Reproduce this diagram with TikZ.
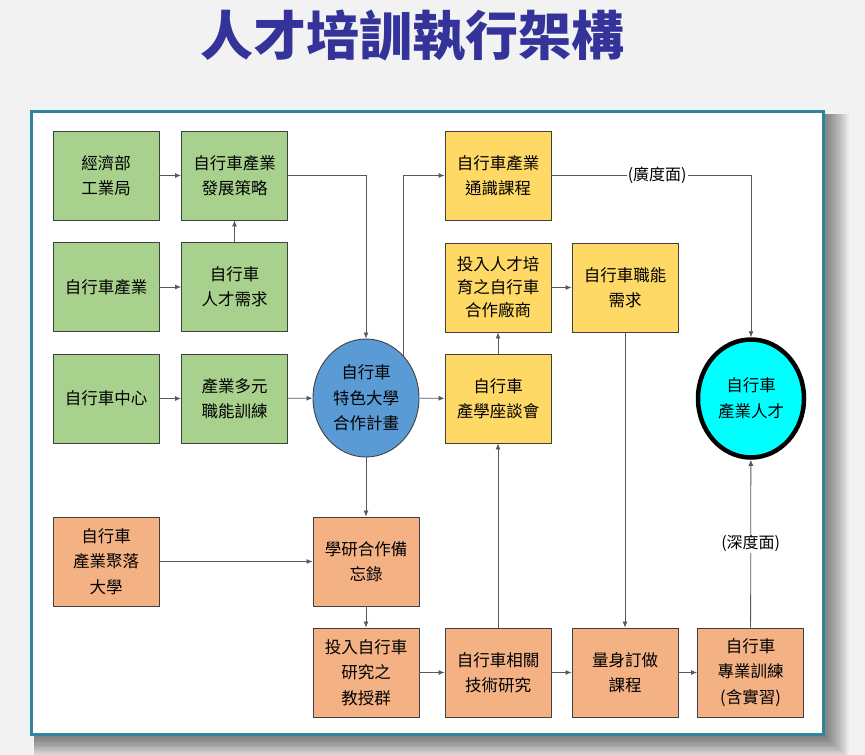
\documentclass[tikz,border=0pt]{standalone}
\usepackage{fontspec}
\newfontfamily\cjk{Noto Sans CJK TC}
\usetikzlibrary{arrows.meta,shapes.geometric}
\definecolor{bgray}{HTML}{F2F2F2}
\definecolor{teal1}{HTML}{31849B}
\definecolor{greenf}{HTML}{A9D18E}
\definecolor{yellowf}{HTML}{FFD966}
\definecolor{orangef}{HTML}{F4B183}
\definecolor{bluef}{HTML}{5B9BD5}
\definecolor{cyanf}{HTML}{00FFFF}
\definecolor{titleblue}{HTML}{333399}
\definecolor{edgec}{HTML}{404040}
\definecolor{linec}{HTML}{595959}
\tikzset{
  boxbase/.style={rectangle, draw=edgec, line width=0.9pt, minimum width=106pt, minimum height=89pt, align=center, inner sep=2pt, font=\cjk\fontsize{16.5}{25}\selectfont},
  gbox/.style={boxbase, fill=greenf},
  ybox/.style={boxbase, fill=yellowf},
  obox/.style={boxbase, fill=orangef},
  conn/.style={draw=linec, line width=0.8pt, -{Latex[length=6pt,width=5pt]}},
  lbl/.style={fill=white, inner sep=1pt, font=\cjk\fontsize{16}{20}\selectfont},
  titlefont/.style={font=\cjk\bfseries\fontsize{53}{60}\selectfont}
}
\begin{document}
\begin{tikzpicture}[x=1pt,y=-1pt]
\useasboundingbox (0,0) rectangle (865,755);
\fill[bgray] (0,0) rectangle (865,755);
% frame shadow
\foreach \k in {1,...,16}{
  \fill[black, opacity=0.035] ({34},{114}) rectangle ({826+1.5*(16-\k)},{738+1.3*(16-\k)});
}
% frame
\draw[teal1, line width=3pt, fill=white] (31.5,111.5) rectangle (823.5,734.5);
% title
\node[text=titleblue, titlefont] (title) at (412,36) {人才培訓執行架構};
% green boxes
\node[gbox] (jjb) at (106,175.5) {經濟部\\工業局};
\node[gbox] (fz) at (234.5,175.5) {自行車產業\\發展策略};
\node[gbox] (cy) at (106,287) {自行車產業};
\node[gbox] (rc) at (234.5,287) {自行車\\人才需求};
\node[gbox] (zx) at (106,398.5) {自行車中心};
\node[gbox] (dy) at (234.5,398.5) {產業多元\\職能訓練};
% blue ellipse
\node[ellipse, draw=edgec, line width=0.9pt, fill=bluef, minimum width=106pt, minimum height=118pt, inner sep=0pt, align=center, font=\cjk\fontsize{16.5}{25.5}\selectfont] (dx) at (366,398) {自行車\\特色大學\\合作計畫};
% yellow boxes
\node[ybox] (ts) at (498,175.5) {自行車產業\\通識課程};
\node[ybox, font=\cjk\fontsize{16.5}{23}\selectfont] (tr) at (498,287.5) {投入人才培\\育之自行車\\合作廠商};
\node[ybox] (zn) at (625,287.5) {自行車職能\\需求};
\node[ybox] (zt) at (498,398.5) {自行車\\產學座談會};
% cyan ellipse
\node[ellipse, draw=black, line width=4.5pt, fill=cyanf, minimum width=106pt, minimum height=118pt, inner sep=0pt, align=center, font=\cjk\fontsize{16.5}{25.5}\selectfont] (rt) at (751,398.5) {自行車\\產業人才};
% orange boxes
\node[obox, font=\cjk\fontsize{16.5}{25.5}\selectfont] (jl) at (106,561.5) {自行車\\產業聚落\\大學};
\node[obox] (xy) at (366,561.5) {學研合作備\\忘錄};
\node[obox, font=\cjk\fontsize{16.5}{25.5}\selectfont] (js) at (366,672.5) {投入自行車\\研究之\\教授群};
\node[obox] (jy) at (498,672.5) {自行車相關\\技術研究};
\node[obox] (ls) at (625,672.5) {量身訂做\\課程};
\node[obox, font=\cjk\fontsize{16.5}{25.5}\selectfont] (zy) at (750.5,672.5) {自行車\\專業訓練\\(含實習)};
% connectors
\draw[conn] (jjb) -- (fz);
\draw[conn] (cy) -- (rc);
\draw[conn] (rc) -- (fz);
\draw[conn] (zx) -- (dy);
\draw[conn] (dy) -- (dx);
\draw[conn] (fz.east) -| (dx.north);
\draw[conn] (dx.north east) |- (ts.west);
\draw[conn] (dx) -- (zt);
\draw[conn] (zt) -- (tr);
\draw[conn] (tr) -- (zn);
\draw[conn] (zn) -- (ls);
\draw[conn] (ts.east) -| node[lbl, pos=0.265] {(廣度面)} (rt.north);
\draw[conn] (dx) -- (xy);
\draw[conn] (jl) -- (xy);
\draw[conn] (xy) -- (js);
\draw[conn] (js) -- (jy);
\draw[conn] (jy) -- (zt);
\draw[conn] (jy) -- (ls);
\draw[conn] (ls) -- (zy);
\draw[conn] (zy) -- node[lbl, pos=0.5] {(深度面)} (rt);
\end{tikzpicture}
\end{document}
